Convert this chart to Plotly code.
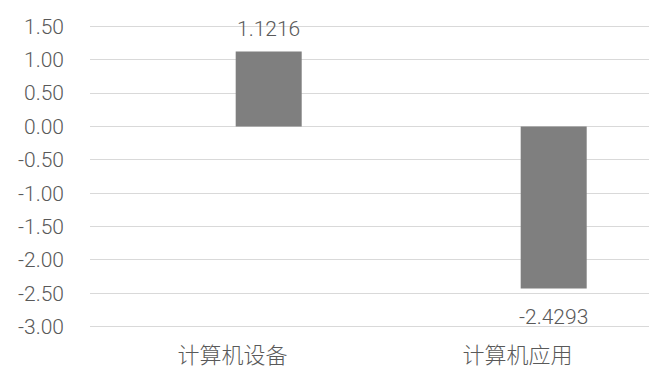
import plotly.graph_objects as go

categories = ["计算机设备", "计算机应用"]
values = [1.1216, -2.4293]
value_labels = ["1.1216", "-2.4293"]
y_tickvals = [1.5, 1.0, 0.5, 0.0, -0.5, -1.0, -1.5, -2.0, -2.5, -3.0]
y_ticktext = ["1.50", "1.00", "0.50", "0.00", "-0.50", "-1.00", "-1.50", "-2.00", "-2.50", "-3.00"]

BAR_W = 0.2316
BAR_OFFSET = 0.0112
TXT = "#595959"
NUM_FONT = "Roboto"

fig = go.Figure()
fig.add_trace(go.Bar(
    x=categories, y=values,
    width=BAR_W, offset=BAR_OFFSET,
    marker=dict(color="#7f7f7f", line=dict(width=0)),
    hoverinfo="skip", cliponaxis=False,
))

for c, v, t in zip(categories, values, value_labels):
    fig.add_annotation(
        x=c, y=v, text=t, showarrow=False,
        xshift=36, yshift=23 if v >= 0 else -28,
        yanchor="middle", xanchor="center",
        font=dict(family=NUM_FONT, size=21, color=TXT, weight=300),
    )

fig.update_layout(
    width=649, height=368,
    margin=dict(l=90, r=0, t=23, b=38, autoexpand=False),
    paper_bgcolor="white", plot_bgcolor="white",
    showlegend=False,
    xaxis=dict(
        type="category", range=[-0.5, 1.4614], automargin=False,
        showgrid=False, zeroline=False, showline=False, ticks="",
        tickfont=dict(family="Noto Sans CJK SC", size=22, color=TXT, weight=300),
        ticklabelstandoff=10,
    ),
    yaxis=dict(
        range=[-3.05, 1.55], automargin=False,
        tickvals=y_tickvals, ticktext=y_ticktext,
        showgrid=True, gridcolor="#d9d9d9", gridwidth=1.3,
        zeroline=False, showline=False, ticks="",
        tickfont=dict(family=NUM_FONT, size=21, color=TXT, weight=300),
        ticklabelstandoff=25,
    ),
)

fig.write_html("out.html")
